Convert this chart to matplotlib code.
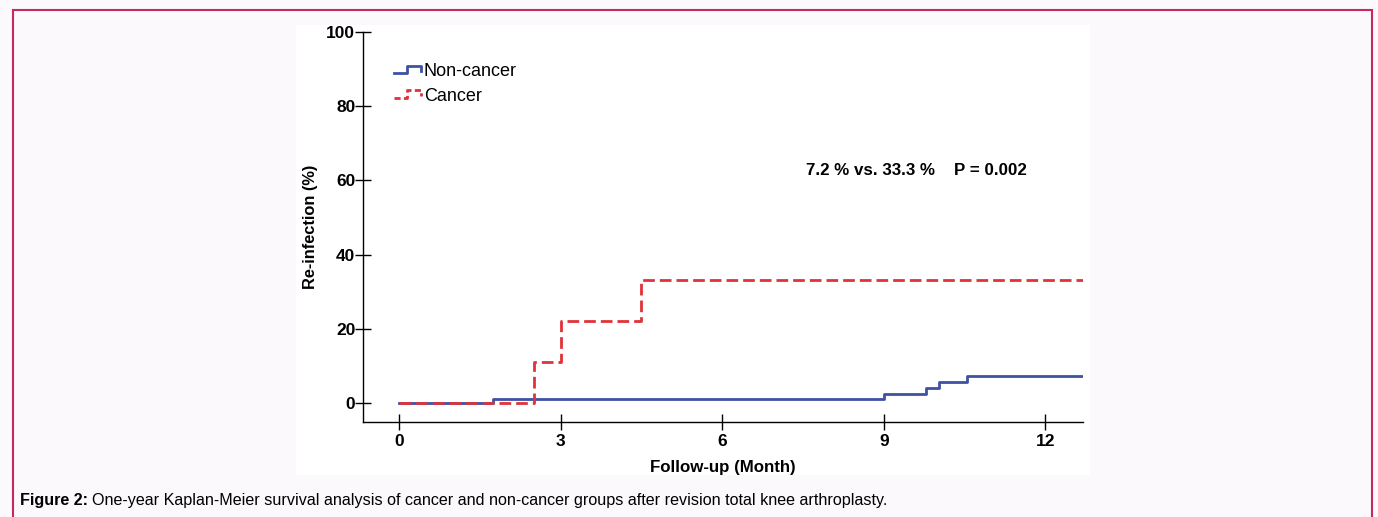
import numpy as np
import matplotlib
matplotlib.use("Agg")
import matplotlib.pyplot as plt
from matplotlib.lines import Line2D
from matplotlib.patches import Rectangle
from matplotlib.legend_handler import HandlerBase

plt.rcParams["font.family"] = ["Liberation Sans", "DejaVu Sans"]

# ====== data ======
noncancer_t = [0, 1.75, 9.0, 9.78, 10.02, 10.54, 12.7]
noncancer_y = [0, 1.2, 2.4, 4.0, 5.6, 7.2, 7.2]
cancer_t = [0, 2.5, 3.0, 4.5, 12.7]
cancer_y = [0, 11.1, 22.2, 33.3, 33.3]
x_ticks = [0, 3, 6, 9, 12]
y_ticks = [0, 20, 40, 60, 80, 100]
group_labels = ["Non-cancer", "Cancer"]
stat_text = "7.2 % vs. 33.3 %    P = 0.002"

blue = "#3f51a3"
red = "#e0323a"


# legend handle drawn as a small step
class StepHandler(HandlerBase):
    def create_artists(self, legend, orig_handle, xdescent, ydescent,
                       width, height, fontsize, trans):
        xs = np.array([0, 0.45, 0.45, 0.95, 0.95]) * width - xdescent
        ys = np.array([0.2, 0.2, 0.8, 0.8, 0.4]) * height - ydescent
        ln = Line2D(xs, ys, color=orig_handle.get_color(),
                    linestyle=orig_handle.get_linestyle(),
                    lw=orig_handle.get_linewidth())
        if orig_handle.get_linestyle() == "--":
            ln.set_dashes((2.2, 1.2))
        ln.set_transform(trans)
        return [ln]


W, H = 1378, 517
fig = plt.figure(figsize=(W / 100, H / 100), dpi=100)
fig.patch.set_facecolor("#fbf9fb")

# outer border and white panel
fig.patches.append(Rectangle((13 / W, -0.05), (1372 - 13) / W, 1 - 10 / H + 0.05,
                             transform=fig.transFigure, fill=False,
                             edgecolor="#c8285a", lw=1.5, zorder=-10))
fig.patches.append(Rectangle((296 / W, 1 - 475 / H), (1090 - 296) / W, (475 - 25) / H,
                             transform=fig.transFigure, facecolor="white",
                             edgecolor="none", zorder=-10))

ax = fig.add_axes([363 / W, 1 - 422 / H, (1083 - 363) / W, (422 - 32) / H])
ax.set_facecolor("none")

l1, = ax.step(noncancer_t, noncancer_y, where="post", color=blue, lw=2.0,
              label=group_labels[0])
l2, = ax.step(cancer_t, cancer_y, where="post", color=red, lw=2.0,
              linestyle="--", label=group_labels[1])
l2.set_dashes((4.2, 1.8))

ax.set_xlim(-0.67, 12.7)
ax.set_ylim(-5.1, 100)
ax.set_xticks(x_ticks)
ax.set_yticks(y_ticks)
for s in ["top", "right"]:
    ax.spines[s].set_visible(False)
ax.spines["left"].set_linewidth(1.0)
ax.spines["bottom"].set_linewidth(1.0)
ax.tick_params(direction="inout", length=11, width=1.0, labelsize=12.5, pad=0)
ax.tick_params(axis="x", pad=3)
for lab in ax.get_xticklabels() + ax.get_yticklabels():
    lab.set_fontweight("bold")

ax.set_xlabel("Follow-up (Month)", fontsize=12.2, fontweight="bold", labelpad=8)
ax.set_ylabel("Re-infection (%)", fontsize=11.8, fontweight="bold", labelpad=6)

ax.text(0.768, 0.644, stat_text, transform=ax.transAxes, ha="center",
        va="center", fontsize=12.2, fontweight="bold")

ax.legend(handles=[l1, l2], handler_map={Line2D: StepHandler()},
          loc="upper left", bbox_to_anchor=(394 / W, 1 - 63 / H),
          bbox_transform=fig.transFigure, frameon=False, fontsize=13,
          handlelength=1.55, handletextpad=0.1, labelspacing=0.42,
          borderpad=0, borderaxespad=0)

# caption
cap_y = 1 - 501 / H
t = fig.text(20 / W, cap_y, "Figure 2:", fontsize=11.6, fontweight="bold",
             va="center", ha="left")
fig.canvas.draw()
bb = t.get_window_extent()
fig.text(bb.x1 / W + 0.003, cap_y,
         "One-year Kaplan-Meier survival analysis of cancer and non-cancer "
         "groups after revision total knee arthroplasty.",
         fontsize=11.6, va="center", ha="left")

fig.savefig("out.png", dpi=100, facecolor=fig.get_facecolor())
